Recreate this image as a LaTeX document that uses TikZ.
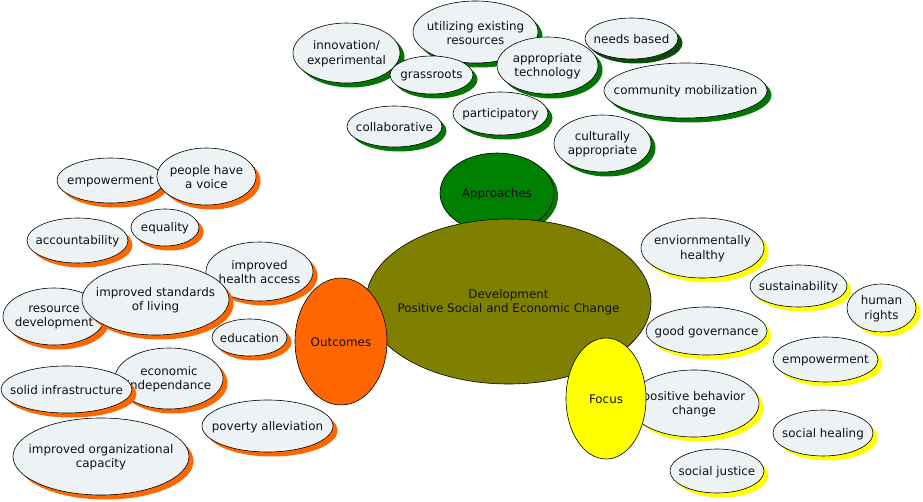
\documentclass[tikz,border=0pt]{standalone}
\usepackage{fontspec}
\setmainfont{DejaVu Sans}
\usetikzlibrary{shapes.geometric,shadows}
\definecolor{satfill}{HTML}{EDF3F5}
\definecolor{olivec}{HTML}{808000}
\definecolor{greenc}{HTML}{008000}
\definecolor{greensh}{HTML}{037503}
\definecolor{greendk}{HTML}{0A4A0A}
\definecolor{orangec}{HTML}{FF6600}
\definecolor{yellowc}{HTML}{FFFF00}
\definecolor{txt}{HTML}{111111}
\newcommand\mainf{\fontsize{11.9}{14.4}\selectfont}
\tikzset{
  base/.style={ellipse, draw=black, line width=0.6pt, inner sep=0pt, outer sep=0pt},
  lab/.style={font=\mainf, align=center, text=txt, inner sep=0pt, yshift=-0.8pt},
  sat/.style={base, fill=satfill, drop shadow={shadow xshift=4.5pt, shadow yshift=-4.5pt, fill=#1, opacity=1}},
  es/.style n args={2}{minimum width=#1pt, minimum height=#2pt},
}
\newcommand\satnode[7]{\node[sat=#6, es={#4}{#5}, label={[lab]center:{#7}}] (#1) at (#2,#3) {};}
\begin{document}
\begin{tikzpicture}[x=1pt,y=-1pt]
\useasboundingbox (0,0) rectangle (923,502);
\fill[white] (0,0) rectangle (923,502);

% Approaches satellites
\satnode{innov}{346.5}{53}{107}{60}{greensh}{innovation/\\experimental}
\satnode{util}{475.5}{32}{125}{62}{greensh}{utilizing existing\\resources}
\satnode{grass}{431.5}{75}{83}{38}{greensh}{grassroots}
\satnode{approp}{547.5}{65.5}{101}{57}{greensh}{appropriate\\technology}
\satnode{needs}{631.5}{38.5}{93}{41}{greendk}{needs based}
\satnode{commun}{685.5}{90.5}{163}{55}{greensh}{community mobilization}
\satnode{partic}{500.5}{113.5}{95}{43}{greensh}{participatory}
\satnode{collab}{394.5}{126.5}{95}{41}{greensh}{collaborative}
\satnode{cultur}{602.5}{143.5}{97}{57}{greensh}{culturally\\appropriate}

% Outcomes satellites
\satnode{empowA}{110.5}{180.5}{107}{45}{orangec}{empowerment}
\satnode{voice}{206.5}{176.5}{99}{57}{orangec}{people have\\a voice}
\satnode{account}{77.5}{240.5}{101}{45}{orangec}{accountability}
\satnode{equal}{165}{227.5}{68}{37}{orangec}{equality}
\satnode{health}{259.5}{271.5}{107}{59}{orangec}{improved\\health access}
\satnode{resdev}{54}{316.5}{102}{57}{orangec}{resource\\development}
\satnode{stand}{155.5}{299.5}{147}{71}{orangec}{improved standards\\of living}
\satnode{educ}{249.5}{337.5}{75}{37}{orangec}{education}
\satnode{econ}{169}{378.5}{108}{61}{orangec}{economic\\independance}
\satnode{infra}{66.5}{389.5}{131}{47}{orangec}{solid infrastructure}
\satnode{orgcap}{101}{456.5}{176}{77}{orangec}{improved organizational\\capacity}
\satnode{poverty}{267.5}{426}{131}{52}{orangec}{poverty alleviation}

% Focus satellites
\satnode{envir}{702.5}{248}{123}{60}{yellowc}{enviornmentally\\healthy}
\satnode{sustain}{798.5}{286}{97}{42}{yellowc}{sustainability}
\satnode{human}{881.5}{308}{69}{48}{yellowc}{human\\rights}
\satnode{govern}{706.5}{331}{121}{48}{yellowc}{good governance}
\satnode{empowB}{825.5}{359.5}{105}{45}{yellowc}{empowerment}
\satnode{behav}{694}{403.5}{130}{67}{yellowc}{positive behavior\\change}
\satnode{heal}{823}{433}{100}{46}{yellowc}{social healing}
\satnode{justice}{717}{471}{94}{44}{yellowc}{social justice}

% Main ellipses
\node[base, fill=greenc, es={114}{80}, drop shadow={shadow xshift=4pt, shadow yshift=-3pt, fill=greensh, opacity=1}, label={[lab]center:Approaches}] (appr) at (497,193) {};
\node[base, fill=olivec, es={285}{165}, label={[lab]center:{Development\\Positive Social and Economic Change}}] (dev) at (508.5,301.5) {};
\node[base, fill=orangec, es={92}{127}, label={[lab]center:Outcomes}] (outc) at (341,341.5) {};
\node[base, fill=yellowc, es={80}{121}, label={[lab]center:Focus}] (focus) at (606,398.5) {};
\end{tikzpicture}
\end{document}
